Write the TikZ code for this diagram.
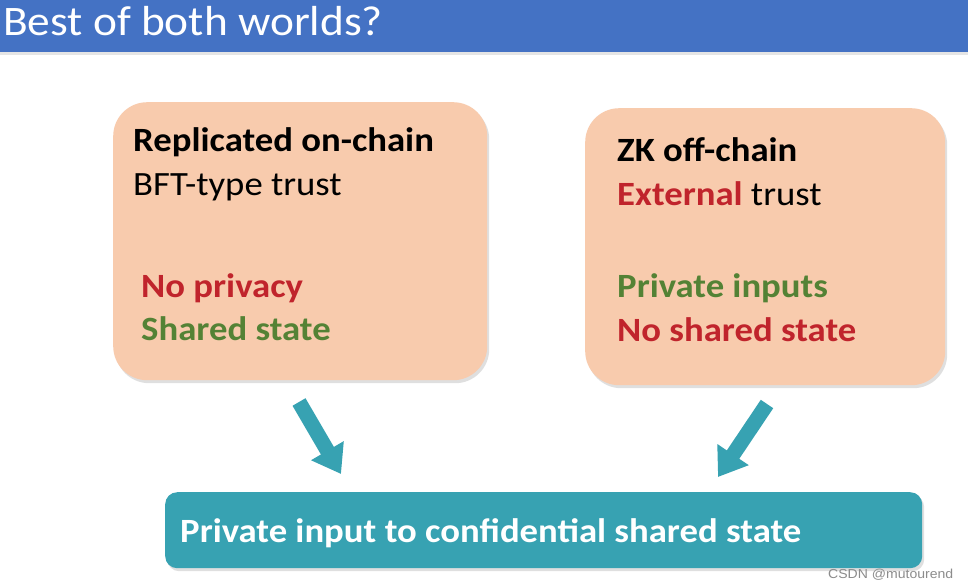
\documentclass[tikz,border=0pt]{standalone}
\usepackage{fontspec}
\setmainfont{Carlito}
\newfontfamily\markfont{Liberation Sans}
\usetikzlibrary{arrows.meta,shadows,positioning}

\definecolor{barblue}{RGB}{68,114,196}
\definecolor{peach}{RGB}{248,203,173}
\definecolor{darkred}{RGB}{192,36,44}
\definecolor{darkgreen}{RGB}{84,130,53}
\definecolor{teal}{RGB}{55,162,178}

\tikzset{
  peachbox/.style={fill=peach, rounded corners=34pt, anchor=north west,
    drop shadow={opacity=0.25, shadow xshift=2pt, shadow yshift=-3pt}},
  txt/.style={anchor=base west, inner sep=0pt, xscale=1.08},
  bigarrow/.style={draw=teal, line width=15pt,
    -{Triangle[width=36pt,length=27pt]}, fill=teal}
}

\begin{document}
\begin{tikzpicture}[x=1pt,y=-1pt]
\useasboundingbox (0,0) rectangle (968,587);
\fill[white] (0,0) rectangle (968,587);

% title bar
\node[fill=barblue, anchor=north west, minimum width=968pt, minimum height=52pt,
  inner sep=0pt, drop shadow={opacity=0.2, shadow xshift=0pt, shadow yshift=-3pt}] (bar) at (0,0) {};
\node[txt, text=white] (title) at (3,35) {\fontsize{42}{48}\selectfont Best of both worlds?};

% left box
\node[peachbox, minimum width=374pt, minimum height=278pt] (onchain) at (113,102) {};
\node[txt] (onhead) at (133,151) {\fontsize{34}{40}\selectfont\bfseries Replicated on-chain};
\node[txt] (ontrust) at (133,195) {\fontsize{34}{40}\selectfont BFT-type trust};
\node[txt, text=darkred] (onpriv) at (141,297) {\fontsize{34}{40}\selectfont\bfseries No privacy};
\node[txt, text=darkgreen] (onstate) at (141,340) {\fontsize{34}{40}\selectfont\bfseries Shared state};

% right box
\node[peachbox, minimum width=360pt, minimum height=277pt] (offchain) at (585,108) {};
\node[txt] (offhead) at (617,161) {\fontsize{34}{40}\selectfont\bfseries ZK off-chain};
\node[txt] (offtrust) at (617,205) {\fontsize{34}{40}\selectfont{\bfseries\color{darkred}External} trust};
\node[txt, text=darkgreen] (offpriv) at (617,297) {\fontsize{34}{40}\selectfont\bfseries Private inputs};
\node[txt, text=darkred] (offstate) at (617,341) {\fontsize{34}{40}\selectfont\bfseries No shared state};

% bottom box
\node[fill=teal, rounded corners=12pt, anchor=north west, minimum width=757pt,
  minimum height=76pt, drop shadow={opacity=0.25, shadow xshift=2pt, shadow yshift=-3pt}] (confid) at (165,492) {};
\node[txt, text=white] (conftext) at (180,542) {\fontsize{34}{40}\selectfont\bfseries Private input to confidential shared state};

% arrows
\coordinate (ltail) at (299,402);
\coordinate (lhead) at (341,474);
\coordinate (rtail) at (767,404);
\coordinate (rhead) at (718,477);
\draw[bigarrow] (ltail) -- (lhead);
\draw[bigarrow] (rtail) -- (rhead);

% watermark
\node[txt, text=black!45] (mark) at (828,578) {\markfont\fontsize{13}{15}\selectfont CSDN @mutourend};
\end{tikzpicture}
\end{document}
